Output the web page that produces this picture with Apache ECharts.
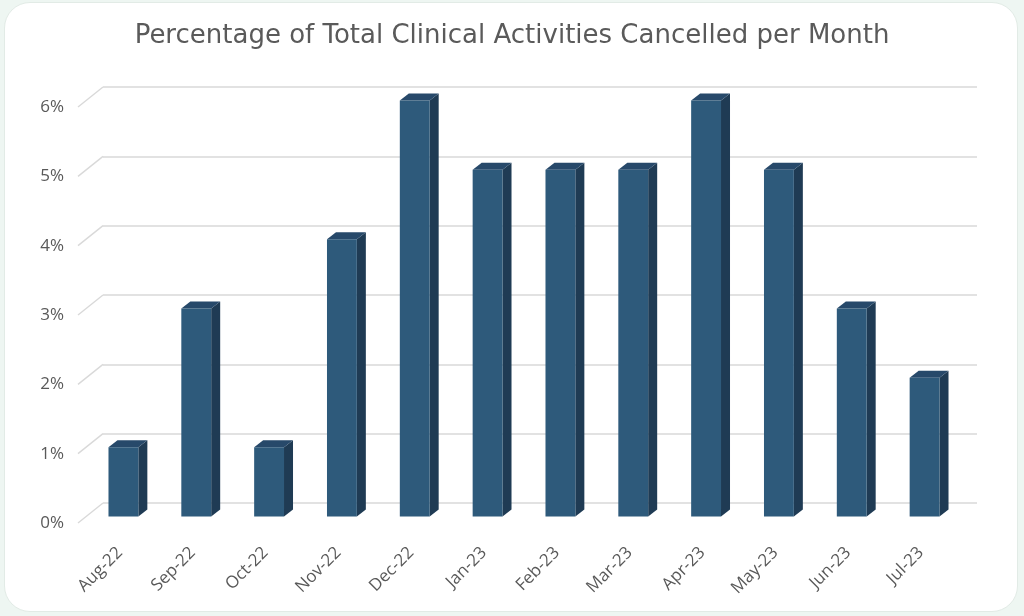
<!DOCTYPE html>
<html>
<head>
<meta charset="utf-8">
<script src="https://cdn.jsdelivr.net/npm/echarts@6/dist/echarts.min.js"></script>
<style>
html,body{margin:0;padding:0;background:#eef6f2;width:1024px;height:616px;overflow:hidden;}
#card{position:absolute;left:4px;top:2px;width:1012px;height:608px;background:#fff;border-radius:26px;border:1px solid #e2ebe6;}
#chart{position:absolute;left:0;top:0;width:1024px;height:616px;}
</style>
</head>
<body>
<div id="card"></div>
<div id="chart"></div>
<script>
const categories = ['Aug-22','Sep-22','Oct-22','Nov-22','Dec-22','Jan-23','Feb-23','Mar-23','Apr-23','May-23','Jun-23','Jul-23'];
const values = [1, 3, 1, 4, 6, 5, 5, 5, 6, 5, 3, 2];
const yTicks = [0, 1, 2, 3, 4, 5, 6];

const DX = 25, DY = 20;       // floor depth offset (front -> back wall)
const SX = 9, SY = 7;         // bar depth offset
const FRONT = '#2e5a7b', SIDE = '#1f3b54', TOP = '#27496a';
const TFONT = '"DejaVu Sans",sans-serif';
const LFONT = '"Open Sans","Noto Sans",sans-serif';

const chart = echarts.init(document.getElementById('chart'), null, {renderer:'canvas'});
const gW = 874, gH = 416;
const option = {
  backgroundColor: 'transparent',
  animation: false,
  title: {
    text: 'Percentage of Total Clinical Activities Cancelled per Month',
    left: 'center', top: 18,
    textStyle: {fontFamily: TFONT, fontSize: 26, fontWeight: 'normal', color: '#5a5a5a'}
  },
  grid: [
    {left: 103, top: 87, width: gW, height: gH},
    {left: 78, top: 107, width: gW, height: gH},
    {left: 87, top: 100.5, width: gW, height: gH}
  ],
  xAxis: [
    {gridIndex: 0, type: 'category', data: categories, show: false},
    {gridIndex: 1, type: 'category', data: categories, show: false},
    {gridIndex: 2, type: 'category', data: categories,
     axisLine: {show: false}, axisTick: {show: false},
     axisLabel: {rotate: 45, margin: 30, fontSize: 17, color: '#595959', fontFamily: LFONT, interval: 0, padding: [0, 5, 10, 0]}}
  ],
  yAxis: [
    {gridIndex: 0, type: 'value', min: 0, max: 6, interval: 1,
     axisLine: {show: false}, axisTick: {show: false}, axisLabel: {show: false},
     splitLine: {show: true, lineStyle: {color: '#d9d9d9', width: 1.5}}},
    {gridIndex: 1, type: 'value', min: 0, max: 6, interval: 1,
     axisLine: {show: false}, axisTick: {show: false}, splitLine: {show: false},
     axisLabel: {formatter: '{value}%', margin: 14, fontSize: 17, color: '#595959', fontFamily: LFONT, padding: [6, 0, 0, 0]}},
    {gridIndex: 2, type: 'value', min: 0, max: 6, interval: 1, show: false}
  ],
  series: [
    {
      type: 'custom', xAxisIndex: 1, yAxisIndex: 1, silent: true,
      data: yTicks.map(v => [0, v]),
      encode: {x: 0, y: 1},
      renderItem: function(params, api) {
        const p = api.coord([0, api.value(1)]);
        const x = params.coordSys.x;
        return {type: 'line', shape: {x1: x, y1: p[1], x2: x + DX, y2: p[1] - DY},
                style: {stroke: '#d9d9d9', lineWidth: 1.5}};
      }
    },
    {
      type: 'custom', xAxisIndex: 2, yAxisIndex: 2,
      data: values.map((v, i) => [i, v]),
      encode: {x: 0, y: 1},
      renderItem: function(params, api) {
        const c = api.coord([api.value(0), api.value(1)]);
        const b = api.coord([api.value(0), 0]);
        const w = api.size([1, 0])[0] * 0.41;
        const x0 = c[0] - w / 2, x1 = c[0] + w / 2, yt = c[1], yb = b[1];
        return {type: 'group', children: [
          {type: 'polygon', shape: {points: [[x1, yt], [x1 + SX, yt - SY], [x1 + SX, yb - SY], [x1, yb]]}, style: {fill: SIDE}},
          {type: 'polygon', shape: {points: [[x0, yt], [x0 + SX, yt - SY], [x1 + SX, yt - SY], [x1, yt]]}, style: {fill: TOP}},
          {type: 'rect', shape: {x: x0, y: yt, width: w, height: yb - yt}, style: {fill: FRONT}}
        ]};
      }
    }
  ]
};
chart.setOption(option);
</script>
</body>
</html>
